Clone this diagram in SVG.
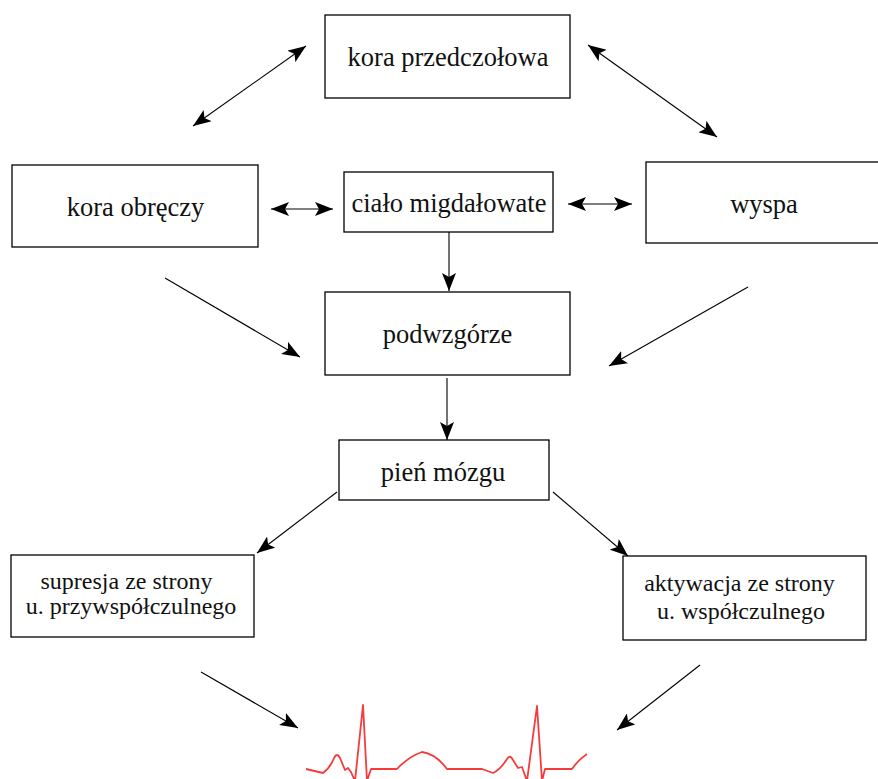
<svg xmlns="http://www.w3.org/2000/svg" width="878" height="779" viewBox="0 0 878 779">
<style>
.box{fill:#fff;stroke:#000;stroke-width:1.3}
.t{font-family:"Liberation Serif","Times New Roman",serif;font-size:26.5px;fill:#111;text-anchor:middle}
.s{font-family:"Liberation Serif","Times New Roman",serif;font-size:24px;fill:#111;text-anchor:middle}
.c{stroke:#000;stroke-width:1.1;fill:none;marker-end:url(#ah)}
.d{marker-start:url(#ahs)}
</style>
<defs>
<marker id="ah" markerUnits="userSpaceOnUse" markerWidth="20" markerHeight="14" refX="18" refY="7" orient="auto">
<path d="M0,0 L18,7 L0,14 L4,7 Z" fill="#000"/>
</marker>
<marker id="ahs" markerUnits="userSpaceOnUse" markerWidth="20" markerHeight="14" refX="0" refY="7" orient="auto">
<path d="M18,0 L0,7 L18,14 L14,7 Z" fill="#000"/>
</marker>
</defs>
<rect width="878" height="779" fill="#fff"/>
<g id="connectors">
<line class="c d" x1="193" y1="126" x2="306" y2="46"/>
<line class="c d" x1="588" y1="45" x2="717" y2="137"/>
<line class="c d" x1="271" y1="209" x2="333" y2="209"/>
<line class="c d" x1="568" y1="204" x2="632" y2="204"/>
<line class="c" x1="449" y1="232" x2="449" y2="291"/>
<line class="c" x1="165" y1="278" x2="300" y2="357"/>
<line class="c" x1="748" y1="287" x2="609" y2="366"/>
<line class="c" x1="447" y1="378" x2="447" y2="440"/>
<line class="c" x1="337" y1="492" x2="257" y2="553"/>
<line class="c" x1="553" y1="492" x2="628" y2="556"/>
<line class="c" x1="201" y1="672" x2="298" y2="728"/>
<line class="c" x1="700" y1="665" x2="617" y2="730"/>
</g>
<g id="n1"><rect class="box" x="325" y="15" width="245" height="83"/><text class="t" x="448" y="66">kora przedczołowa</text></g>
<g id="n2"><rect class="box" x="12" y="165" width="246" height="82"/><text class="t" x="135.5" y="216">kora obręczy</text></g>
<g id="n3"><rect class="box" x="344" y="172" width="209" height="60"/><text class="t" x="449" y="212">ciało migdałowate</text></g>
<g id="n4"><rect class="box" x="646" y="162" width="240" height="81"/><text class="t" x="764" y="213">wyspa</text></g>
<g id="n5"><rect class="box" x="325" y="292" width="245" height="83"/><text class="t" x="447.5" y="343">podwzgórze</text></g>
<g id="n6"><rect class="box" x="339" y="440" width="210" height="60"/><text class="t" x="443" y="481">pień mózgu</text></g>
<g id="n7"><rect class="box" x="11" y="555" width="243" height="82"/><text class="s" x="126.5" y="589">supresja ze strony</text><text class="s" x="131" y="614">u. przywspółczulnego</text></g>
<g id="n8"><rect class="box" x="623" y="556" width="243" height="84"/><text class="s" x="739.5" y="591">aktywacja ze strony</text><text class="s" x="741" y="619">u. współczulnego</text></g>
<g id="ecg">
<path fill="none" stroke="#f53c3c" stroke-width="1.8" stroke-linejoin="round" d="M306,769 L323,773 Q330,768 334,758 Q337,752 340,758 L345,770 L348,768 L351,772 L355,781 L363,705 L367,781 L371,769 L397,769 Q408,757 422,752 Q436,754 447,769 L482,769 L493,773 Q500,770 507,759 Q510,754 513,760 L518,768 L522,767 L527,781 L537,706 L542,781 L545,769 L572,769 Q579,759 587,754"/>
</g>
</svg>
